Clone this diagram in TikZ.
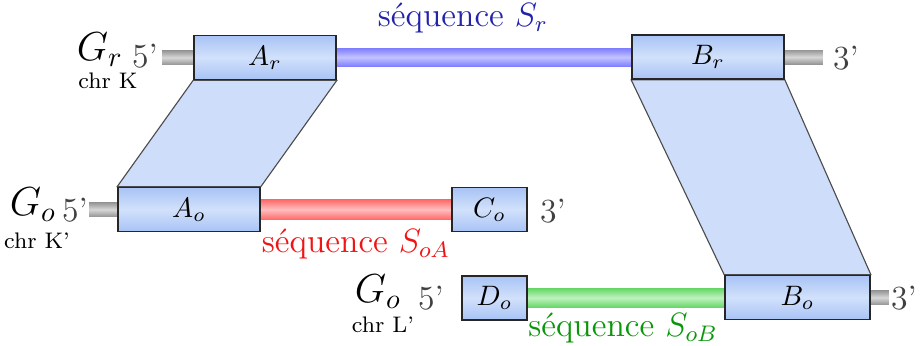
\documentclass[tikz,border=0pt]{standalone}
\usepackage{amsmath}
\usepackage{xcolor}
\usepackage{tikz}
\usetikzlibrary{
	calc,
	backgrounds,
	positioning
}
\definecolor{BoxBlue}{RGB}{168,195,245}
\definecolor{BoxLight}{RGB}{210,225,251}
\definecolor{ParaBlue}{RGB}{206,222,250}
\definecolor{SeqBlue}{RGB}{125,125,255}
\definecolor{SeqBlueL}{RGB}{195,195,255}
\definecolor{SeqRed}{RGB}{255,105,105}
\definecolor{SeqRedL}{RGB}{255,190,190}
\definecolor{SeqGreen}{RGB}{105,215,105}
\definecolor{SeqGreenL}{RGB}{190,242,190}
\definecolor{StubGray}{RGB}{150,150,150}
\definecolor{StubGrayL}{RGB}{215,215,215}
\definecolor{TxtBlue}{RGB}{35,35,170}
\definecolor{TxtRed}{RGB}{240,20,20}
\definecolor{TxtGreen}{RGB}{10,150,10}
\newcommand{\px}{0.0125cm}

\begin{document}
\begin{tikzpicture}[x=0.0125cm, y=-0.0125cm,
		seg/.style={draw=black!85, line width=0.6pt, top color=BoxBlue, bottom color=BoxBlue, middle color=BoxLight, minimum height=44*\px, inner sep=0pt},
		bar/.style n args={2}{top color=#1, bottom color=#1, middle color=#2},
		para/.style={fill=ParaBlue, draw=black!70, line width=0.4pt},
		glabel/.style={font=\Large, inner sep=0pt},
		chrlabel/.style={font=\footnotesize, inner sep=0pt},
		endlabel/.style={font=\large, text=black!75, inner sep=0pt}]
		\useasboundingbox (0,0) rectangle (920,345);
		% segments
		\node[seg, minimum width=142*\px] (Ar) at (265,57.5) {$A_r$};
		\node[seg, minimum width=152*\px] (Br) at (708,57) {$B_r$};
		\node[seg, minimum width=142*\px] (Ao) at (189,209.5) {$A_o$};
		\node[seg, minimum width=75*\px] (Co) at (489.5,209.5) {$C_o$};
		\node[seg, minimum width=65*\px] (Do) at (494.5,298) {$D_o$};
		\node[seg, minimum width=145*\px] (Bo) at (797.5,297.5) {$B_o$};
		\begin{scope}[on background layer]
			% correspondences
			\filldraw[para] (Ar.south west) -- (Ar.south east) -- (Ao.north east) -- (Ao.north west) -- cycle;
			\filldraw[para] (Br.south west) -- (Br.south east) -- (Bo.north east) -- (Bo.north west) -- cycle;
			% sequences
			\shade[bar={SeqBlue}{SeqBlueL}] ($(Ar.east)+(0,-9.5)$) rectangle ($(Br.west)+(0,9.5)$);
			\shade[bar={SeqRed}{SeqRedL}] ($(Ao.east)+(0,-10)$) rectangle ($(Co.west)+(0,10)$);
			\shade[bar={SeqGreen}{SeqGreenL}] ($(Do.east)+(0,-9.5)$) rectangle ($(Bo.west)+(0,9.5)$);
			% ends
			\shade[bar={StubGray}{StubGrayL}] ($(Ar.west)+(-31,-7)$) rectangle ($(Ar.west)+(0,7)$);
			\shade[bar={StubGray}{StubGrayL}] ($(Br.east)+(0,-7)$) rectangle ($(Br.east)+(38,7)$);
			\shade[bar={StubGray}{StubGrayL}] ($(Ao.west)+(-28,-7)$) rectangle ($(Ao.west)+(0,7)$);
			\shade[bar={StubGray}{StubGrayL}] ($(Bo.east)+(0,-7)$) rectangle ($(Bo.east)+(18,7)$);
		\end{scope}
		% genome labels
		\node[glabel] (Gr) at (100,50) {$G_r$};
		\node[chrlabel] (chrK) at (108,81) {chr K};
		\node[endlabel] (Gr5) at (145,56) {5'};
		\node[endlabel] (Gr3) at (846,58) {3'};
		\node[glabel] (Go) at (33,205) {$G_o$};
		\node[chrlabel] (chrKp) at (37,241) {chr K'};
		\node[endlabel] (Go5) at (75,210) {5'};
		\node[endlabel] (Go3) at (553,211) {3'};
		\node[glabel] (GoL) at (378,292) {$G_o$};
		\node[chrlabel] (chrL) at (383,325) {chr L'};
		\node[endlabel] (GoL5) at (431,298) {5'};
		\node[endlabel] (GoL3) at (904,298) {3'};
		% sequence labels
		\node[font=\large, text=TxtBlue] (Sr) at (463,18) {séquence $S_r$};
		\node[font=\large, text=TxtRed] (SoA) at (356,244) {séquence $S_{oA}$};
		\node[font=\large, text=TxtGreen] (SoB) at (623,328) {séquence $S_{oB}$};
	\end{tikzpicture}
\end{document}
